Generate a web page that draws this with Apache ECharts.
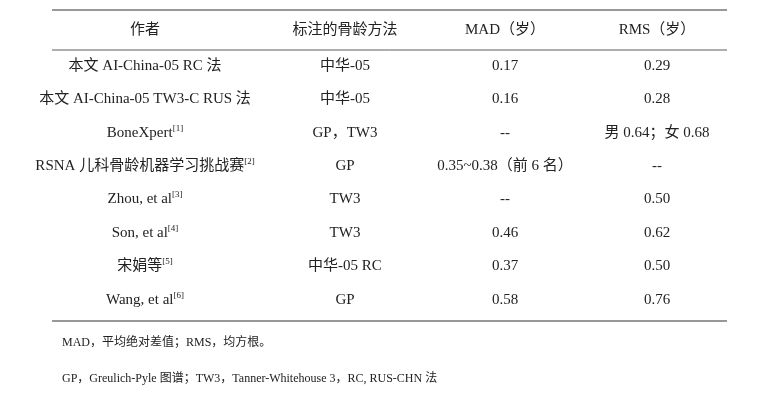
<!DOCTYPE html>
<html><head><meta charset="utf-8">
<script src="https://cdn.jsdelivr.net/npm/echarts@6/dist/echarts.min.js"></script>
<style>html,body{margin:0;background:#fff}#c{width:759px;height:405px}</style>
</head><body><div id="c"></div>
<script>
const headers = ['作者', '标注的骨龄方法', 'MAD（岁）', 'RMS（岁）'];
const authors = ['本文 AI-China-05 RC 法', '本文 AI-China-05 TW3-C RUS 法', 'BoneXpert', 'RSNA 儿科骨龄机器学习挑战赛', 'Zhou, et al', 'Son, et al', '宋娟等', 'Wang, et al'];
const refs = ['', '', '[1]', '[2]', '[3]', '[4]', '[5]', '[6]'];
const methods = ['中华-05', '中华-05', 'GP，TW3', 'GP', 'TW3', 'TW3', '中华-05 RC', 'GP'];
const mad = ['0.17', '0.16', '--', '0.35~0.38（前 6 名）', '--', '0.46', '0.37', '0.58'];
const rms = ['0.29', '0.28', '男 0.64；女 0.68', '--', '0.50', '0.62', '0.50', '0.76'];
const notes = ['MAD，平均绝对差值；RMS，均方根。', 'GP，Greulich-Pyle 图谱；TW3，Tanner-Whitehouse 3，RC, RUS-CHN 法'];

const font = '"Liberation Serif","Noto Sans CJK SC",serif';
const colX = [145, 345, 505, 657];
const rowY = [66, 99, 133, 166, 199, 233, 266, 300];
const g = [];
function txt(x, y, s, size, align, rich) {
  g.push({type: 'text', x, y, style: {text: s, font: size + 'px ' + font, fill: '#222', align: align || 'center', verticalAlign: 'middle', rich: rich}});
}
function line(y, w) {
  g.push({type: 'line', shape: {x1: 52, y1: y, x2: 727, y2: y}, style: {stroke: '#333', lineWidth: w}});
}
line(10, 1.2); line(50, 0.8); line(321, 1.2);
headers.forEach((h, i) => txt(colX[i], 30, h, 15));
authors.forEach((a, r) => {
  const s = refs[r] ? a + '{sup|' + refs[r] + '}' : a;
  txt(colX[0], rowY[r], s, 15, 'center', {sup: {font: '9px ' + font, fill: '#222', verticalAlign: 'top', padding: [0, 0, 8, 0]}});
  txt(colX[1], rowY[r], methods[r], 15);
  txt(colX[2], rowY[r], mad[r], 15);
  txt(colX[3], rowY[r], rms[r], 15);
});
txt(62, 343, notes[0], 12, 'left');
txt(62, 379, notes[1], 12, 'left');
const chart = echarts.init(document.getElementById('c'));
chart.setOption({animation: false, graphic: g});
</script></body></html>
